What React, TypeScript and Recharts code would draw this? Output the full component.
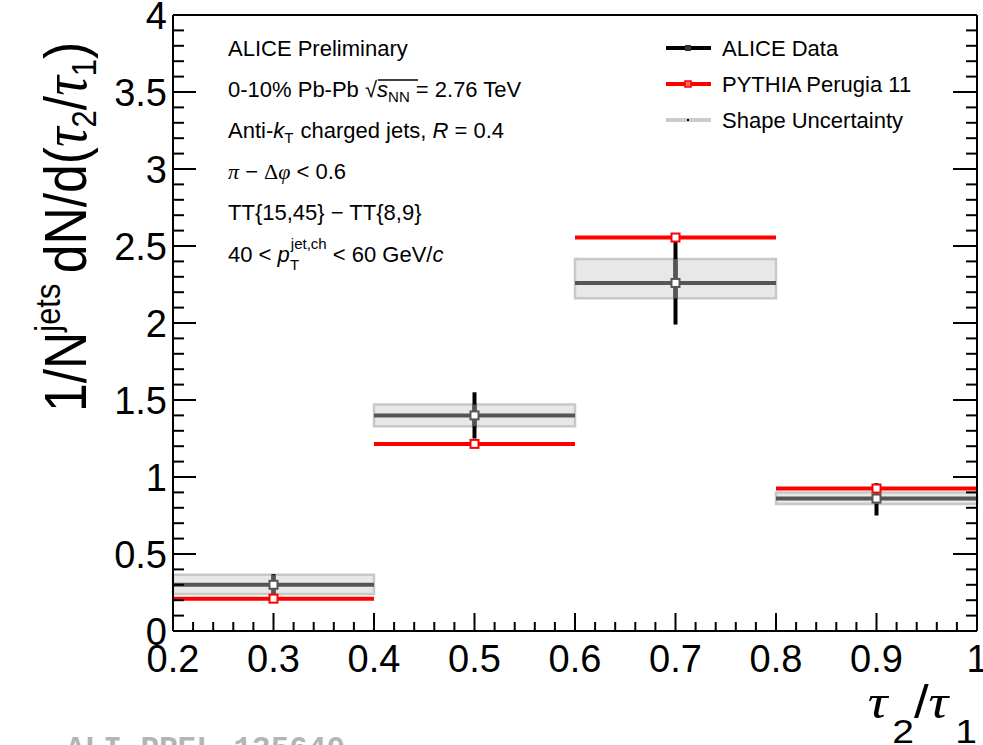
import {
  ComposedChart,
  Scatter,
  XAxis,
  YAxis,
  ErrorBar,
  ReferenceArea,
} from "recharts";

// tau2/tau1 bins
const binLow = [0.2, 0.4, 0.6, 0.8];
const binHigh = [0.4, 0.6, 0.8, 1.0];
const binCenter = [0.3, 0.5, 0.7, 0.9];

// ALICE data, stat. error bounds and shape uncertainty bounds
const aliceValue = [0.3, 1.4, 2.26, 0.86];
const statLow = [0.24, 1.25, 1.99, 0.75];
const statHigh = [0.37, 1.55, 2.53, 0.96];
const shapeLow = [0.24, 1.33, 2.16, 0.825];
const shapeHigh = [0.365, 1.47, 2.415, 0.9];

// PYTHIA Perugia 11
const pythiaValue = [0.21, 1.215, 2.555, 0.925];

const xTickLabels = ["0.2", "0.3", "0.4", "0.5", "0.6", "0.7", "0.8", "0.9", "1"];
const yTickLabels = ["0", "0.5", "1", "1.5", "2", "2.5", "3", "3.5", "4"];

// minor ticks, ROOT style (5 per major division)
const xTicks = Array.from({ length: 41 }, (_, i) => Math.round((0.2 + i * 0.02) * 1000) / 1000);
const yTicks = Array.from({ length: 41 }, (_, i) => Math.round(i * 0.1 * 1000) / 1000);

const aliceRows = binCenter.map((x, i) => ({
  x,
  y: aliceValue[i],
  xErr: [x - binLow[i], binHigh[i] - x],
  stat: [aliceValue[i] - statLow[i], statHigh[i] - aliceValue[i]],
  shape: [aliceValue[i] - shapeLow[i], shapeHigh[i] - aliceValue[i]],
}));

const pythiaRows = binCenter.map((x, i) => ({
  x,
  y: pythiaValue[i],
  xErr: [x - binLow[i], binHigh[i] - x],
}));

const FONT = "'Liberation Sans', Arial, Helvetica, sans-serif";
const SERIF = "'Liberation Serif', 'Times New Roman', serif";

const findLabel = (v: number, labels: string[]) =>
  labels.find((l) => Math.abs(Number(l) - v) < 1e-6);

const BottomTick = (props: any) => {
  const { x, y, payload } = props;
  const label = findLabel(payload.value, xTickLabels);
  return (
    <g>
      <line x1={x} x2={x} y1={y} y2={y - (label ? 18 : 9)} stroke="#000" strokeWidth={2} />
      {label && (
        <text x={x} y={y + 41} textAnchor="middle" fontSize={38} fontFamily={FONT} fill="#000">
          {label}
        </text>
      )}
    </g>
  );
};

const TopTick = (props: any) => {
  const { x, y, payload } = props;
  const label = findLabel(payload.value, xTickLabels);
  return <line x1={x} x2={x} y1={y} y2={y + (label ? 18 : 10)} stroke="#000" strokeWidth={2} />;
};

const LeftTick = (props: any) => {
  const { x, y, payload } = props;
  const label = findLabel(payload.value, yTickLabels);
  return (
    <g>
      <line x1={x} x2={x + (label ? 23 : 11)} y1={y} y2={y} stroke="#000" strokeWidth={2} />
      {label && (
        <text x={x - 6} y={y} dy="0.36em" textAnchor="end" fontSize={38} fontFamily={FONT} fill="#000">
          {label}
        </text>
      )}
    </g>
  );
};

const RightTick = (props: any) => {
  const { x, y, payload } = props;
  const label = findLabel(payload.value, yTickLabels);
  return <line x1={x} x2={x - (label ? 24 : 11)} y1={y} y2={y} stroke="#000" strokeWidth={2} />;
};

const noMarker = () => <g />;

const aliceMarker = (p: any) => (
  <rect x={p.cx - 4} y={p.cy - 4} width={8} height={8} fill="#fff" stroke="#555" strokeWidth={2} />
);

const pythiaMarker = (p: any) => (
  <rect x={p.cx - 4} y={p.cy - 4} width={8} height={8} fill="#fff" stroke="#ff0000" strokeWidth={2} />
);

export default function App() {
  return (
    <div
      style={{
        position: "absolute",
        left: 0,
        top: 0,
        width: 983,
        height: 745,
        overflow: "hidden",
        background: "#fff",
      }}
    >
      <ComposedChart width={983} height={745} margin={{ top: 0, right: 0, bottom: 0, left: 0 }}>
        <XAxis
          dataKey="x"
          type="number"
          domain={[0.2, 1]}
          ticks={xTicks}
          interval={0}
          allowDataOverflow
          height={114}
          tickSize={0}
          tickMargin={0}
          tickLine={false}
          tick={BottomTick}
          axisLine={{ stroke: "#000", strokeWidth: 2 }}
        />
        <XAxis
          xAxisId="t"
          orientation="top"
          type="number"
          domain={[0.2, 1]}
          ticks={xTicks}
          interval={0}
          allowDataOverflow
          height={15}
          tickSize={0}
          tickMargin={0}
          tickLine={false}
          tick={TopTick}
          axisLine={{ stroke: "#000", strokeWidth: 2 }}
        />
        <YAxis
          dataKey="y"
          type="number"
          domain={[0, 4]}
          ticks={yTicks}
          interval={0}
          allowDataOverflow
          width={173}
          tickSize={0}
          tickMargin={0}
          tickLine={false}
          tick={LeftTick}
          axisLine={{ stroke: "#000", strokeWidth: 2 }}
        />
        <YAxis
          yAxisId="r"
          orientation="right"
          type="number"
          domain={[0, 4]}
          ticks={yTicks}
          interval={0}
          allowDataOverflow
          width={6}
          tickSize={0}
          tickMargin={0}
          tickLine={false}
          tick={RightTick}
          axisLine={{ stroke: "#000", strokeWidth: 2 }}
        />

        {binCenter.map((_, i) => (
          <ReferenceArea
            key={i}
            x1={binLow[i]}
            x2={binHigh[i]}
            y1={shapeLow[i]}
            y2={shapeHigh[i]}
            fill="#e8e8e8"
            fillOpacity={1}
            stroke="#c8c8c8"
            strokeWidth={2.5}
          />
        ))}

        <Scatter name="stat" data={aliceRows} shape={noMarker} isAnimationActive={false}>
          <ErrorBar dataKey="stat" direction="y" width={0} stroke="#000" strokeWidth={4} isAnimationActive={false} />
        </Scatter>
        <Scatter name="shape" data={aliceRows} shape={noMarker} isAnimationActive={false}>
          <ErrorBar dataKey="shape" direction="y" width={0} stroke="#555" strokeWidth={4} isAnimationActive={false} />
        </Scatter>
        <Scatter name="PYTHIA Perugia 11" data={pythiaRows} shape={pythiaMarker} isAnimationActive={false}>
          <ErrorBar dataKey="xErr" direction="x" width={0} stroke="#ff0000" strokeWidth={4} isAnimationActive={false} />
        </Scatter>
        <Scatter name="ALICE Data" data={aliceRows} shape={aliceMarker} isAnimationActive={false}>
          <ErrorBar dataKey="xErr" direction="x" width={0} stroke="#555" strokeWidth={4} isAnimationActive={false} />
        </Scatter>
      </ComposedChart>

      <svg
        width={983}
        height={745}
        style={{ position: "absolute", left: 0, top: 0, pointerEvents: "none" }}
        fontFamily={FONT}
      >
        {/* annotations */}
        <g fontSize={22} fill="#000">
          <text x={228} y={56}>ALICE Preliminary</text>
          <text x={228} y={97}>
            0-10% Pb-Pb √<tspan fontStyle="italic">s</tspan>
            <tspan fontSize={15} dy={5}>NN</tspan>
            <tspan dy={-5}> = 2.76 TeV</tspan>
          </text>
          <line x1={378} x2={418} y1={80} y2={80} stroke="#000" strokeWidth={1.5} />
          <text x={228} y={138}>
            Anti-<tspan fontStyle="italic">k</tspan>
            <tspan fontSize={15} dy={5}>T</tspan>
            <tspan dy={-5} dx={7}>{"charged jets, "}</tspan>
            <tspan fontStyle="italic">R</tspan> = 0.4
          </text>
          <text x={228} y={179}>
            <tspan fontFamily={SERIF} fontStyle="italic">π</tspan> − <tspan fontFamily={SERIF}>Δ</tspan>
            <tspan fontFamily={SERIF} fontStyle="italic">φ</tspan> {"< 0.6"}
          </text>
          <text x={228} y={220}>TT{"{15,45}"} − TT{"{8,9}"}</text>
          <text x={228} y={262}>
            {"40 < "}
            <tspan fontStyle="italic">p</tspan>
            <tspan fontSize={15} dy={-13} dx={1}>jet,ch</tspan>
            <tspan dy={13}>{" < 60 GeV/"}</tspan>
            <tspan fontStyle="italic">c</tspan>
          </text>
          <text x={290} y={270} fontSize={15}>T</text>
        </g>

        {/* legend */}
        <g fontSize={22} fill="#000">
          <line x1={666} x2={711} y1={48} y2={48} stroke="#000" strokeWidth={4} />
          <rect x={685} y={45} width={6} height={6} fill="#333" />
          <text x={722} y={56}>ALICE Data</text>
          <line x1={666} x2={711} y1={84} y2={84} stroke="#ff0000" strokeWidth={4} />
          <rect x={685} y={81} width={6} height={6} fill="#ff6666" stroke="#ff0000" strokeWidth={1.5} />
          <text x={722} y={92}>PYTHIA Perugia 11</text>
          <line x1={666} x2={711} y1={120} y2={120} stroke="#cccccc" strokeWidth={4} />
          <rect x={687} y={119} width={2} height={2} fill="#000" />
          <text x={722} y={128}>Shape Uncertainty</text>
        </g>

        {/* y axis title */}
        <text transform="translate(86,412) rotate(-90) scale(0.86,1)" fontSize={60} fill="#000">
          1/N<tspan fontSize={36} dy={-26}>jets</tspan>
          <tspan dy={26} dx={12}>dN/d(</tspan>
          <tspan fontFamily={SERIF} fontStyle="italic" fontSize={64}>τ</tspan>
          <tspan fontSize={36} dy={10}>2</tspan>
          <tspan dy={-10}>/</tspan>
          <tspan fontFamily={SERIF} fontStyle="italic" fontSize={64}>τ</tspan>
          <tspan fontSize={36} dy={10}>1</tspan>
          <tspan dy={-10}>)</tspan>
        </text>

        {/* x axis title */}
        <text transform="translate(977,718) scale(1.15,1)" textAnchor="end" fontSize={46} fill="#000">
          <tspan fontFamily={SERIF} fontStyle="italic" fontSize={48}>τ</tspan>
          <tspan fontSize={34} dy={25} dx={4}>2</tspan>
          <tspan dy={-25}>/</tspan>
          <tspan fontFamily={SERIF} fontStyle="italic" fontSize={48}>τ</tspan>
          <tspan fontSize={34} dy={25} dx={6}>1</tspan>
        </text>

        {/* watermark */}
        <text x={66} y={758} fontFamily="'Liberation Mono', monospace" fontWeight="bold" fontSize={31} fill="#b4b4b4">
          ALI-PREL-135640
        </text>
      </svg>
    </div>
  );
}
